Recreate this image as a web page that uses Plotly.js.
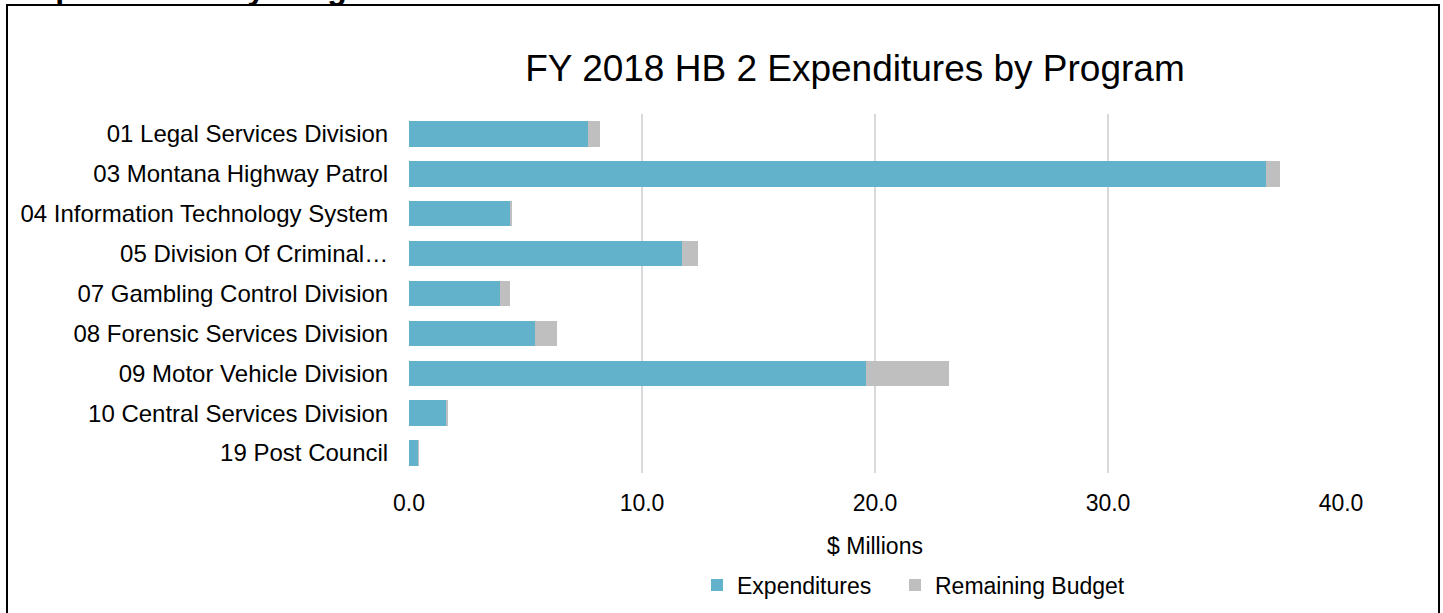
<!DOCTYPE html>
<html>
<head>
<meta charset="utf-8">
<script src="https://cdn.plot.ly/plotly-3.0.1.min.js"></script>
<style>
html,body{margin:0;padding:0;background:#fff;}
#chart{width:1443px;height:613px;}
</style>
</head>
<body>
<div id="chart"></div>
<script>
const programs = [
  "01 Legal Services Division",
  "03 Montana Highway Patrol",
  "04 Information Technology System",
  "05 Division Of Criminal\u2026",
  "07 Gambling Control Division",
  "08 Forensic Services Division",
  "09 Motor Vehicle Division",
  "10 Central Services Division",
  "19 Post Council"
];
const expenditures = [7.68, 36.78, 4.35, 11.72, 3.91, 5.39, 19.63, 1.60, 0.39];
const remainingBudget = [0.52, 0.61, 0.06, 0.68, 0.42, 0.96, 3.55, 0.06, 0.05];
const xTicks = [0, 10, 20, 30, 40];
const xTickText = ["0.0", "10.0", "20.0", "30.0", "40.0"];

const W = 1443, H = 613;
const M = {l: 409, r: 102, t: 114, b: 140, autoexpand: false};
const pw = W - M.l - M.r, ph = H - M.t - M.b;
const px = x => (x - M.l) / pw;
const py = y => 1 - (y - M.t) / ph;

const FONT = "Liberation Sans, Arial, sans-serif";

const traces = [
  {type: "bar", orientation: "h", name: "Expenditures", y: programs, x: expenditures,
   marker: {color: "#62B2CC"}, hoverinfo: "x+y", legend: "legend"},
  {type: "bar", orientation: "h", name: "Remaining Budget", y: programs, x: remainingBudget,
   marker: {color: "#BFBFC0"}, hoverinfo: "x+y", legend: "legend2"}
];

const legendBase = {orientation: "h", yanchor: "middle", xanchor: "left",
                    font: {size: 23, color: "#000"}, bgcolor: "rgba(0,0,0,0)",
                    borderwidth: 0, itemwidth: 30};

const layout = {
  width: W, height: H,
  margin: M,
  barmode: "stack",
  bargap: 0.36,
  paper_bgcolor: "#fff",
  plot_bgcolor: "#fff",
  font: {family: FONT, size: 23, color: "#000"},
  title: {text: "FY 2018 HB 2 Expenditures by Program",
          font: {family: FONT, size: 37, color: "#000"},
          xref: "container", x: 855 / W, xanchor: "center",
          yref: "container", y: 1 - 68 / H, yanchor: "middle"},
  xaxis: {range: [0, 40], tickvals: xTicks, ticktext: xTickText,
          showgrid: true, gridcolor: "#D9D9D9", gridwidth: 1.5, zeroline: false,
          showline: false, ticks: "outside", ticklen: 9, tickcolor: "rgba(0,0,0,0)",
          tickfont: {size: 23, color: "#000"},
          title: {text: "$ Millions", font: {size: 23, color: "#000"}, standoff: 23},
          fixedrange: true},
  yaxis: {autorange: "reversed", showgrid: false, zeroline: false, showline: false,
          ticks: "outside", ticklen: 15, tickcolor: "rgba(0,0,0,0)",
          tickfont: {size: 24, color: "#000"}, fixedrange: true},
  showlegend: true,
  legend: Object.assign({}, legendBase, {x: px(697), y: py(585)}),
  legend2: Object.assign({}, legendBase, {x: px(895), y: py(585)}),
  shapes: [
    {type: "rect", xref: "paper", yref: "paper",
     x0: px(7), x1: px(1439), y0: py(625), y1: py(5),
     line: {color: "#000", width: 2}, fillcolor: "rgba(0,0,0,0)", layer: "below"}
  ],
  annotations: [
    {text: "<b>Expenditures by Program</b>", xref: "paper", yref: "paper",
     x: px(14), xanchor: "left", y: py(-12), yanchor: "middle", showarrow: false,
     font: {family: FONT, size: 32, color: "#000"}}
  ]
};

Plotly.newPlot("chart", traces, layout, {displayModeBar: false, staticPlot: true});
</script>
</body>
</html>
